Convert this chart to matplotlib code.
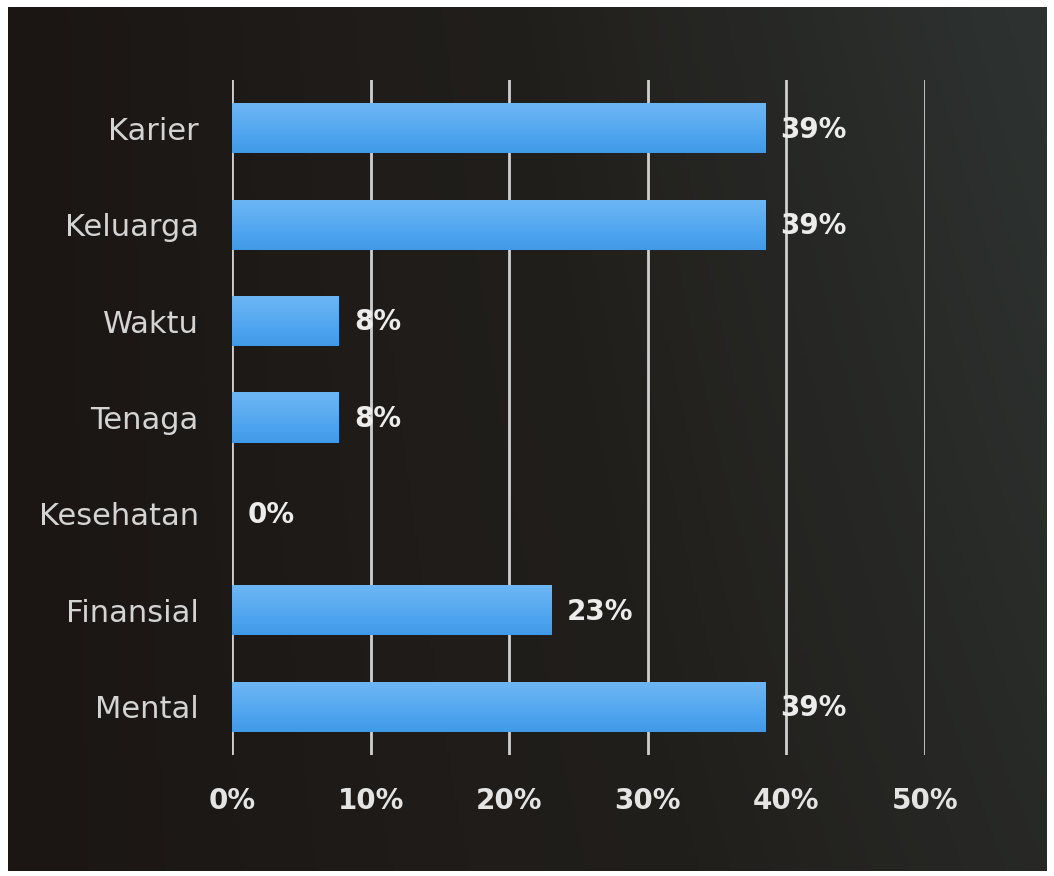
import matplotlib
matplotlib.use("Agg")
import matplotlib.pyplot as plt
import numpy as np
from matplotlib.colors import LinearSegmentedColormap

categories = ["Karier", "Keluarga", "Waktu", "Tenaga", "Kesehatan", "Finansial", "Mental"]
values = [38.46, 38.46, 7.69, 7.69, 0.0, 23.08, 38.46]
labels = ["39%", "39%", "8%", "8%", "0%", "23%", "39%"]
xticks = [0, 10, 20, 30, 40, 50]
xticklabels = ["0%", "10%", "20%", "30%", "40%", "50%"]

W, H = 1054, 876
fig = plt.figure(figsize=(W / 100, H / 100), dpi=100)
fig.patch.set_facecolor("white")

# dark gradient background panel
bg = fig.add_axes([8 / W, 1 - 871 / H, (1047 - 8) / W, (871 - 7) / H])
bg.set_axis_off()
grad = np.linspace(0, 1, 256)
gx, gy = np.meshgrid(grad, grad)
t = 0.75 * gx + 0.25 * gy * gx
bg_cmap = LinearSegmentedColormap.from_list("bg", ["#1b1613", "#211f1c", "#2e3331"])
bg.imshow(t, cmap=bg_cmap, aspect="auto", extent=[0, 1, 0, 1], origin="lower")
bg.set_xlim(0, 1)
bg.set_ylim(0, 1)

# main axes: x 232..925 -> 0..50, y 80..755 -> -0.5..6.5
x0, x1 = 232, 925
y0, y1 = 80, 755
ax = fig.add_axes([x0 / W, 1 - y1 / H, (x1 - x0) / W, (y1 - y0) / H])
ax.set_facecolor("none")

for s in ax.spines.values():
    s.set_visible(False)

for xv in xticks:
    ax.axvline(xv, color="#cfcfcf", lw=2.0, zorder=1)

ypos = np.arange(len(categories))
bars = ax.barh(ypos, values, height=0.52, color="#4ba2ec", zorder=2)

bar_cmap = LinearSegmentedColormap.from_list("bar", ["#3f98e6", "#4ca3ee", "#6db6f4"])
for b in bars:
    if b.get_width() <= 0:
        continue
    xb, yb = b.get_x(), b.get_y()
    wb, hb = b.get_width(), b.get_height()
    im = ax.imshow(np.linspace(1, 0, 64).reshape(-1, 1) ** 0.6, cmap=bar_cmap,
                   aspect="auto", extent=[xb, xb + wb, yb + hb, yb], zorder=3,
                   interpolation="bilinear")
    im.set_clip_path(b)
ax.set_xlim(0, 50)
ax.set_ylim(6.5, -0.5)

for yv, v, lab in zip(ypos, values, labels):
    ax.annotate(lab, xy=(v, yv), xytext=(11, -1), textcoords="offset points",
                ha="left", va="center", color="#ececec", fontsize=20,
                fontweight="bold", family="DejaVu Sans", zorder=4)

ax.set_yticks(ypos)
ax.set_yticklabels(categories, color="#d4d4d4", fontsize=22, family="DejaVu Sans")
ax.set_xticks(xticks)
ax.set_xticklabels(xticklabels, color="#e4e4e4", fontsize=20, fontweight="bold",
                   family="DejaVu Sans")
ax.tick_params(axis="y", length=0, pad=24)
ax.tick_params(axis="x", length=0, pad=23)

fig.savefig("out.png", dpi=100, facecolor=fig.get_facecolor())
